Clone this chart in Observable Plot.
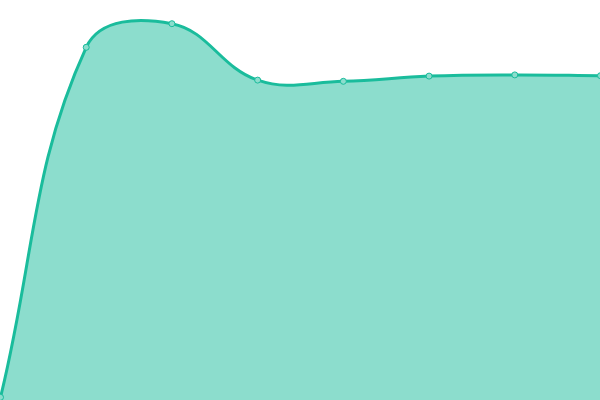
<!DOCTYPE html>
<html><head><meta charset="utf-8">
<script src="https://cdn.jsdelivr.net/npm/d3@7"></script>
<script src="https://cdn.jsdelivr.net/npm/@observablehq/plot@0.6"></script>
<style>html,body{margin:0;padding:0;background:#fff;overflow:hidden}</style>
</head><body><div id="chart"></div>
<script>
const xs = [0, 1, 2, 3, 4, 5, 6, 7];
const values = [0.8, 88.3, 94.2, 80.1, 79.8, 81.1, 81.4, 81.2];
const data = xs.map((x, i) => ({x, y: values[i]}));

// distance-weighted cardinal spline (tension 0.4), as a d3 curve factory
function splineCurve(tension) {
  return function(context) {
    return {
      areaStart() { this._line = 0; },
      areaEnd() { this._line = NaN; },
      lineStart() { this._pts = []; },
      point(x, y) { this._pts.push([+x, +y]); },
      lineEnd() {
        const p = this._pts, n = p.length;
        if (n) {
          if (this._line) context.lineTo(p[0][0], p[0][1]);
          else context.moveTo(p[0][0], p[0][1]);
          const cpPrev = [], cpNext = [];
          for (let i = 0; i < n; i++) {
            const prev = p[Math.max(0, i - 1)], cur = p[i], next = p[Math.min(n - 1, i + 1)];
            const d01 = Math.hypot(cur[0] - prev[0], cur[1] - prev[1]);
            const d12 = Math.hypot(next[0] - cur[0], next[1] - cur[1]);
            let s01 = d01 / (d01 + d12), s12 = d12 / (d01 + d12);
            if (!isFinite(s01)) s01 = 0;
            if (!isFinite(s12)) s12 = 0;
            const fa = tension * s01, fb = tension * s12;
            cpPrev.push([cur[0] - fa * (next[0] - prev[0]), cur[1] - fa * (next[1] - prev[1])]);
            cpNext.push([cur[0] + fb * (next[0] - prev[0]), cur[1] + fb * (next[1] - prev[1])]);
          }
          for (let i = 1; i < n; i++) {
            context.bezierCurveTo(cpNext[i - 1][0], cpNext[i - 1][1], cpPrev[i][0], cpPrev[i][1], p[i][0], p[i][1]);
          }
          if (this._line || (this._line !== 0 && n === 1)) context.closePath();
        }
        this._line = 1 - this._line;
      }
    };
  };
}
const curve = splineCurve(0.4);

const chart = Plot.plot({
  width: 600, height: 400,
  margin: 0,
  x: {domain: [0, 7], axis: null},
  y: {domain: [0, 100], axis: null},
  marks: [
    Plot.areaY(data, {x: "x", y: "y", curve, fill: "#1abc9c", fillOpacity: 0.5}),
    Plot.lineY(data, {x: "x", y: "y", curve, stroke: "#1abc9c", strokeWidth: 3}),
    Plot.dot(data, {x: "x", y: "y", r: 3, fill: "#8cddcd", stroke: "#1abc9c", strokeWidth: 1})
  ]
});
document.getElementById("chart").appendChild(chart);
</script></body></html>
